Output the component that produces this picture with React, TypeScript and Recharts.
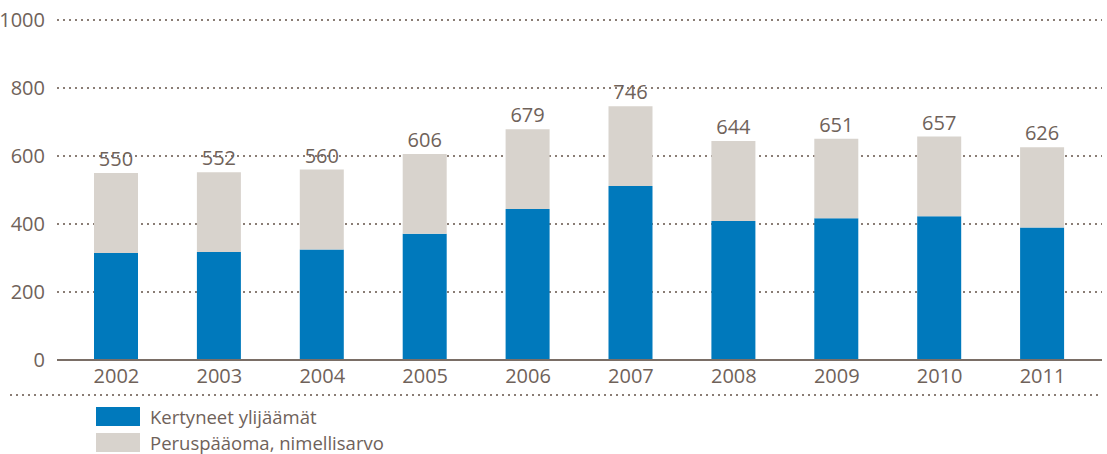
import React from "react";
import {
  BarChart,
  Bar,
  XAxis,
  YAxis,
  CartesianGrid,
  LabelList,
} from "recharts";

const years = ["2002", "2003", "2004", "2005", "2006", "2007", "2008", "2009", "2010", "2011"];
const kertyneet = [315, 318, 325, 371, 444, 512, 409, 417, 423, 390];
const peruspaaoma = [235, 234, 235, 235, 235, 234, 235, 234, 234, 236];
const totals = [550, 552, 560, 606, 679, 746, 644, 651, 657, 626];
const yTicks = [0, 200, 400, 600, 800, 1000];

const data = years.map((year, i) => ({
  year,
  kertyneet: kertyneet[i],
  peruspaaoma: peruspaaoma[i],
  total: totals[i],
}));

const BLUE = "#0079bc";
const GREY = "#d8d3cd";
const TEXT = "#6f625a";
const FONT = "'Open Sans', 'Noto Sans', sans-serif";

const App = () => {
  return (
    <div style={{ position: "absolute", left: 0, top: 0, width: 1107, height: 454, fontFamily: FONT }}>
      <BarChart
        width={1107}
        height={454}
        data={data}
        margin={{ top: 20, right: 5, left: 0, bottom: 0 }}
        barSize={44}
      >
        <CartesianGrid
          vertical={false}
          stroke="#8a7d75"
          strokeWidth={2}
          strokeDasharray="2 4"
        />
        <XAxis
          dataKey="year"
          height={94}
          padding={{ left: 8, right: 8 }}
          tickLine={false}
          axisLine={{ stroke: "#7a6e66", strokeWidth: 2 }}
          tick={{ fill: TEXT, fontSize: 20, fontFamily: FONT }}
          tickMargin={3}
        />
        <YAxis
          width={57}
          domain={[0, 1000]}
          ticks={yTicks}
          axisLine={false}
          tickLine={false}
          tick={{ fill: TEXT, fontSize: 20, fontFamily: FONT }}
          tickMargin={6}
        />
        <Bar dataKey="kertyneet" stackId="a" fill={BLUE} isAnimationActive={false} />
        <Bar dataKey="peruspaaoma" stackId="a" fill={GREY} isAnimationActive={false}>
          <LabelList
            dataKey="total"
            position="top"
            offset={7}
            fill={TEXT}
            fontSize={20}
            fontFamily={FONT}
          />
        </Bar>
      </BarChart>
      <svg style={{ position: "absolute", left: 0, top: 0 }} width={1107} height={454}>
        <line
          x1={10}
          x2={1102}
          y1={395}
          y2={395}
          stroke="#8a7d75"
          strokeWidth={2}
          strokeDasharray="2 4"
        />
      </svg>
      <div style={{ position: "absolute", left: 96, top: 404, color: TEXT, fontSize: 18.5, lineHeight: "25.5px" }}>
        <div style={{ display: "flex", alignItems: "center" }}>
          <span style={{ width: 44, height: 19, background: BLUE, marginRight: 10 }} />
          Kertyneet ylijäämät
        </div>
        <div style={{ display: "flex", alignItems: "center" }}>
          <span style={{ width: 44, height: 19, background: GREY, marginRight: 10 }} />
          Peruspääoma, nimellisarvo
        </div>
      </div>
    </div>
  );
};

export default App;
